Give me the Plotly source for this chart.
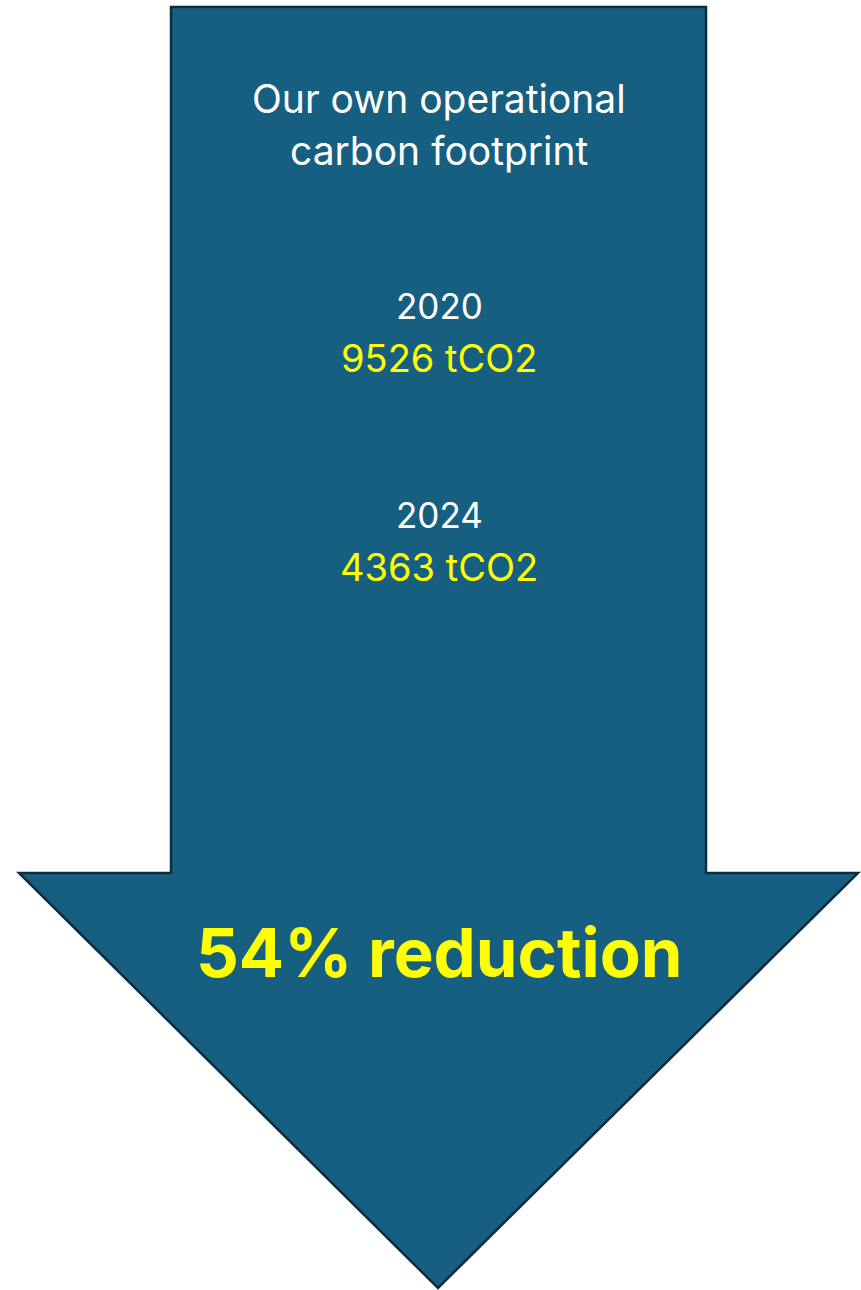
import plotly.graph_objects as go

# ---- data ----
title_lines = ["Our own operational", "carbon footprint"]
years = [2020, 2024]
emissions_tco2 = [9526, 4363]
unit = "tCO2"
reduction_pct = round((1 - emissions_tco2[1] / emissions_tco2[0]) * 100)

# ---- geometry (pixels) ----
W, H = 861, 1290
shaft_l, shaft_r, top = 171, 706, 7
head_l, head_r, head_y = 19, 858, 873
tip_x, tip_y = 438, 1288
cx = 439

FILL = "#175F81"
EDGE = "#0E2C3F"
WHITE = "#FFFFFF"
YELLOW = "#FFFF00"
FONT = "Inter"

fig = go.Figure()

path = (f"M {shaft_l},{top} L {shaft_r},{top} L {shaft_r},{head_y} L {head_r},{head_y} "
        f"L {tip_x},{tip_y} L {head_l},{head_y} L {shaft_l},{head_y} Z")
fig.add_shape(type="path", path=path, xref="x", yref="y",
              fillcolor=FILL, line=dict(color=EDGE, width=2.5), layer="below")

# invisible trace to set up axes
fig.add_trace(go.Scatter(x=[0, W], y=[0, H], mode="markers",
                         marker=dict(opacity=0), hoverinfo="skip", showlegend=False))

def txt(y, s, color, size, bold=False):
    fig.add_annotation(x=cx, y=y, xref="x", yref="y", showarrow=False,
                       text=f"<b>{s}</b>" if bold else s,
                       font=dict(family=FONT, size=size, color=color),
                       xanchor="center", yanchor="middle")

txt(98, title_lines[0], WHITE, 39)
txt(150, title_lines[1], WHITE, 39)
year_y = [306, 515]
val_y = [358, 567]
for yr, v, y1, y2 in zip(years, emissions_tco2, year_y, val_y):
    txt(y1, str(yr), WHITE, 35)
    txt(y2, f"{v} {unit}", YELLOW, 38)
txt(952, f"{reduction_pct}% reduction", YELLOW, 67, bold=True)

fig.update_layout(
    width=W, height=H, margin=dict(l=0, r=0, t=0, b=0),
    paper_bgcolor="white", plot_bgcolor="white",
    xaxis=dict(range=[0, W], visible=False, fixedrange=True),
    yaxis=dict(range=[H, 0], visible=False, fixedrange=True),
)
fig.write_html("out.html", post_script="document.body.style.margin='0';",
               config={"displayModeBar": False})
